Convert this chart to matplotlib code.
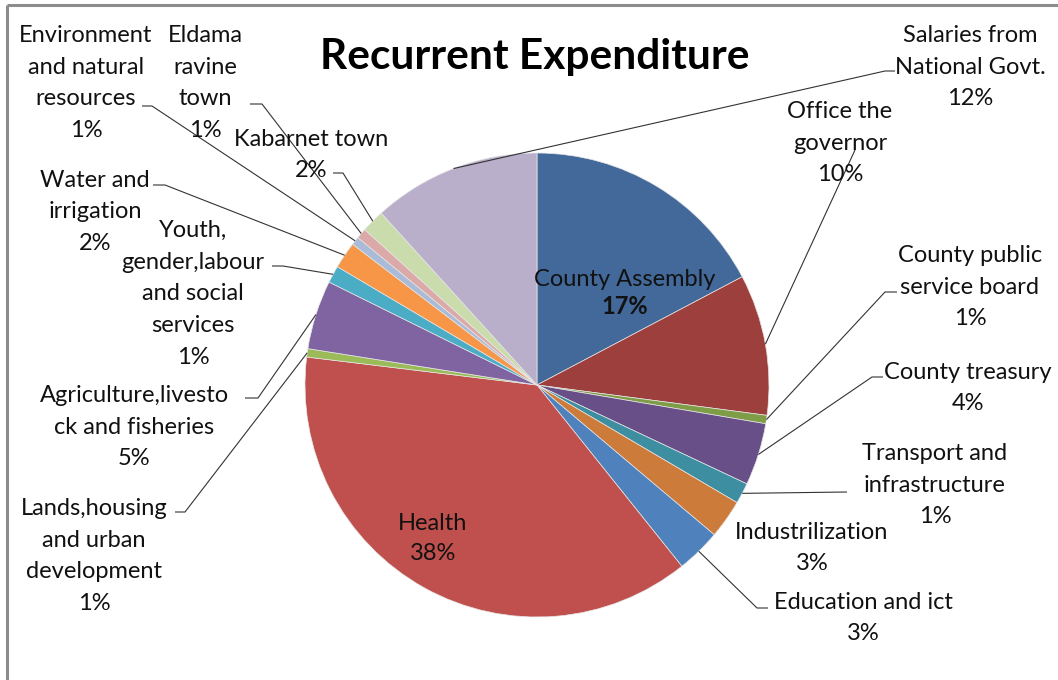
import numpy as np
import matplotlib
matplotlib.use("Agg")
import matplotlib.pyplot as plt

# ---------------- data ----------------
categories = [
    "County Assembly", "Office the governor", "County public service board",
    "County treasury", "Transport and infrastructure", "Industrilization",
    "Education and ict", "Health", "Lands,housing and urban development",
    "Agriculture,livestock and fisheries", "Youth, gender,labour and social services",
    "Water and irrigation", "Environment and natural resources",
    "Eldama ravine town", "Kabarnet town", "Salaries from National Govt.",
]
values = [17.25, 9.8, 0.58, 4.33, 1.45, 2.7, 3.1, 37.6, 0.58, 4.8, 1.2,
          1.86, 0.58, 0.72, 1.6, 11.7]
label_text = [
    "County Assembly", "Office the\ngovernor", "County public\nservice board",
    "County treasury", "Transport and\ninfrastructure", "Industrilization",
    "Education and ict", "Health", "Lands,housing\nand urban\ndevelopment",
    "Agriculture,livesto\nck and fisheries", "Youth,\ngender,labour\nand social\nservices",
    "Water and\nirrigation", "Environment\nand natural\nresources",
    "Eldama\nravine\ntown", "Kabarnet town", "Salaries from\nNational Govt.",
]
title = "Recurrent Expenditure"

colors = ["#43699A", "#9D3F3C", "#7F9C46", "#694F87", "#3D8EA1", "#CC7B3A",
          "#4F81BD", "#C0504D", "#9BBB59", "#8064A2", "#4BACC6", "#F79646",
          "#AABBD8", "#DBA9A8", "#CADBAC", "#B9AFCB"]

# ---------------- layout (image pixel coords) ----------------
W, H = 1058, 680
CX, CY, R = 537, 385, 232
STEP = 31.7  # line step of label blocks, px
label_pos = {
    1: (840, 141), 2: (970, 285), 3: (968, 386), 4: (935, 483),
    5: (812, 546), 6: (863, 616), 8: (94, 554), 9: (134, 425),
    10: (193, 292), 11: (95, 210), 12: (86, 81), 13: (205, 81),
    14: (311, 153), 15: (970, 65),
}
inside_pos = {0: (625, 277, 305), 7: (433, 522, 552)}
leaders = {
    1: [(855, 150)],
    2: [(885, 292), (897, 292)],
    3: [(872, 377), (883, 377)],
    4: [(847, 492)],
    6: [(757, 608), (768, 608)],
    8: [(185, 512), (175, 512)],
    9: [(258, 398), (245, 398)],
    10: [(283, 266), (272, 266)],
    11: [(165, 185), (153, 185)],
    12: [(152, 106), (142, 106)],
    13: [(262, 104), (250, 104)],
    14: [(343, 173), (333, 173)],
    15: [(885, 71), (895, 71)],
}

FONT = "Lato"
FS = 17


def Y(y):
    return H - y


fig = plt.figure(figsize=(W / 100, H / 100), dpi=100)
ax = fig.add_axes([0, 0, 1, 1])
wedges, _ = ax.pie(values, colors=colors, startangle=90, counterclock=False,
                   center=(CX, Y(CY)), radius=R,
                   wedgeprops=dict(edgecolor="#e6e6e6", linewidth=0.5))
ax.set_xlim(0, W)
ax.set_ylim(0, H)
ax.set_aspect("equal")
ax.axis("off")

total = sum(values)
pcts = [f"{round(v / total * 100)}%" for v in values]

# outside labels, one text per line
for i, (x, y) in label_pos.items():
    lines = label_text[i].split("\n") + [pcts[i]]
    n = len(lines)
    for k, line in enumerate(lines):
        ly = y + (k - (n - 1) / 2) * STEP
        ax.text(x, Y(ly), line, ha="center", va="center_baseline",
                fontsize=FS, family=FONT, color="#111111")

# inside labels
for i, (x, y1, y2) in inside_pos.items():
    ax.text(x, Y(y1), label_text[i], ha="center", va="center_baseline",
            fontsize=FS, family=FONT, color="#111111")
    ax.text(x, Y(y2), pcts[i], ha="center", va="center_baseline", fontsize=FS,
            family=FONT, color="#111111",
            fontweight="bold" if i == 0 else "normal")

# leader lines
for i, pts in leaders.items():
    w = wedges[i]
    mid = np.deg2rad((w.theta1 + w.theta2) / 2)
    px = CX + R * np.cos(mid)
    py = Y(CY) + R * np.sin(mid)
    xs = [px] + [p[0] for p in pts]
    ys = [py] + [Y(p[1]) for p in pts]
    ax.plot(xs, ys, color="#333333", lw=0.8, solid_capstyle="butt")

# title
ax.text(535, Y(57), title, ha="center", va="center", fontsize=30.5,
        family=FONT, fontweight="bold", color="black")

# frame (left and top edges)
ax.plot([7, 7], [Y(5), 0], color="#8c8c8c", lw=2.2, solid_capstyle="butt")
ax.plot([7, W], [Y(5), Y(5)], color="#8c8c8c", lw=2.2, solid_capstyle="butt")

fig.savefig("out.png", dpi=100)
